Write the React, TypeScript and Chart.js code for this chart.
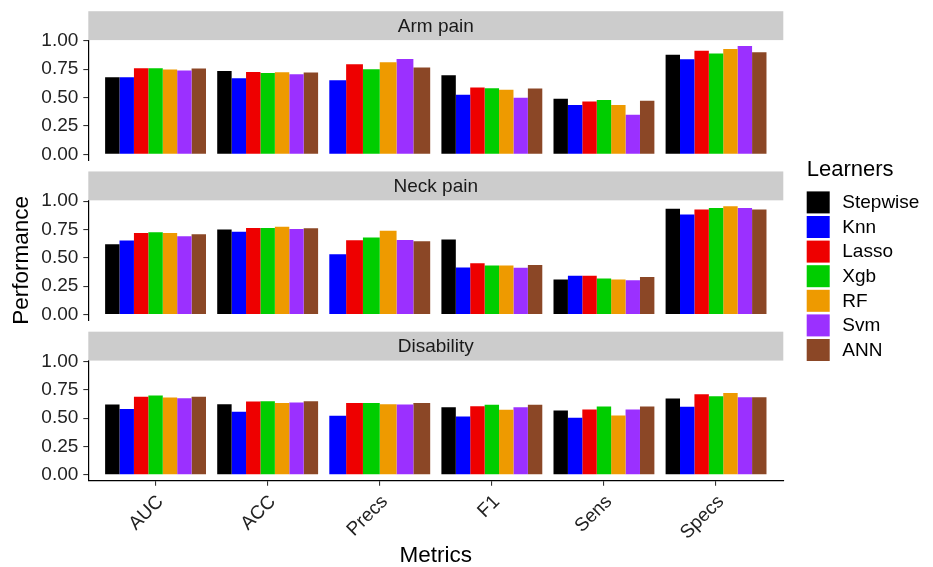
import React, { useEffect, useRef } from 'react';
import { Chart, registerables } from 'chart.js';

Chart.register(...registerables);

const FONT = "'Liberation Sans', Arial, Helvetica, sans-serif";

const METRICS = ['AUC', 'ACC', 'Precs', 'F1', 'Sens', 'Specs'];
const LEARNERS = ['Stepwise', 'Knn', 'Lasso', 'Xgb', 'RF', 'Svm', 'ANN'];
const LEARNER_COLORS = ['#000000', '#0000FF', '#EE0000', '#00CD00', '#EE9A00', '#9B30FF', '#8B4726'];
const PANELS = ['Arm pain', 'Neck pain', 'Disability'];
const Y_TICKS = [0, 0.25, 0.5, 0.75, 1];

// rows follow LEARNERS, columns follow METRICS
const ARM_PAIN = [
  [0.68, 0.735, null, 0.697, 0.49, 0.879],
  [0.68, 0.671, 0.654, 0.525, 0.434, 0.838],
  [0.759, 0.726, 0.794, 0.589, 0.466, 0.914],
  [0.76, 0.718, 0.75, 0.583, 0.48, 0.89],
  [0.747, 0.724, 0.811, 0.569, 0.434, 0.928],
  [0.738, 0.706, 0.84, 0.498, 0.35, 0.955],
  [0.756, 0.721, 0.765, 0.58, 0.472, 0.899],
];
const NECK_PAIN = [
  [0.62, 0.749, null, 0.661, 0.31, 0.933],
  [0.652, 0.731, 0.532, 0.416, 0.342, 0.883],
  [0.72, 0.763, 0.655, 0.453, 0.342, 0.927],
  [0.725, 0.763, 0.679, 0.433, 0.319, 0.939],
  [0.72, 0.775, 0.74, 0.433, 0.31, 0.956],
  [0.69, 0.754, 0.658, 0.412, 0.302, 0.939],
  [0.708, 0.76, 0.646, 0.436, 0.331, 0.927],
];
const DISABILITY = [
  [0.62, 0.623, null, 0.596, 0.567, 0.672],
  [0.579, 0.556, 0.52, 0.515, 0.503, 0.599],
  [0.687, 0.646, 0.634, 0.605, 0.576, 0.71],
  [0.699, 0.649, 0.632, 0.617, 0.602, 0.693],
  [0.681, 0.632, 0.623, 0.573, 0.523, 0.722],
  [0.675, 0.637, 0.62, 0.596, 0.576, 0.684],
  [0.687, 0.649, 0.632, 0.617, 0.602, 0.684],
];
const PANEL_VALUES = [ARM_PAIN, NECK_PAIN, DISABILITY];

const stripPlugin = {
  id: 'facetStrips',
  afterDraw(chart: any) {
    const ctx = chart.ctx;
    const area = chart.chartArea;
    ctx.save();
    PANELS.forEach((name, p) => {
      const s = chart.scales['s' + p];
      const top = s.top + s.height * 0.28;
      ctx.fillStyle = '#CCCCCC';
      ctx.fillRect(area.left, top, area.right - area.left, s.bottom - top);
      ctx.fillStyle = '#1A1A1A';
      ctx.font = `19px ${FONT}`;
      ctx.textAlign = 'center';
      ctx.textBaseline = 'middle';
      ctx.fillText(name, (area.left + area.right) / 2, (top + s.bottom) / 2 + 1);
    });
    // legend
    const mid = chart.scales.p1;
    const cy = (mid.top + mid.bottom) / 2;
    const x0 = area.right + 23.4;
    ctx.fillStyle = '#000';
    ctx.textAlign = 'left';
    ctx.textBaseline = 'alphabetic';
    ctx.font = `22px ${FONT}`;
    ctx.fillText('Learners', x0, cy - 84);
    ctx.font = `19px ${FONT}`;
    ctx.textBaseline = 'middle';
    LEARNERS.forEach((l, i) => {
      const top = cy - 69 + i * 24.6;
      ctx.fillStyle = LEARNER_COLORS[i];
      ctx.fillRect(x0, top, 23, 22);
      ctx.fillStyle = '#000';
      ctx.fillText(l, x0 + 35.6, top + 11.5);
    });
    ctx.restore();
  },
};

export default function App() {
  const ref = useRef<HTMLCanvasElement>(null);
  useEffect(() => {
    const canvas = ref.current;
    if (!canvas) return;
    Chart.defaults.font.family = FONT;

    const datasets: any[] = [];
    PANEL_VALUES.forEach((rows, p) =>
      rows.forEach((vals, l) =>
        datasets.push({
          label: LEARNERS[l],
          stack: LEARNERS[l],
          yAxisID: 'p' + p,
          backgroundColor: LEARNER_COLORS[l],
          borderWidth: 0,
          categoryPercentage: 0.9,
          barPercentage: 1,
          skipNull: true,
          data: vals.map((v, i) => ({ x: i + 1, y: v })),
        })
      )
    );

    const scales: any = {
      x: {
        type: 'linear',
        position: 'bottom',
        min: 0.4,
        max: 6.6,
        offset: false,
        afterBuildTicks: (s: any) => {
          s.ticks = METRICS.map((_, i) => ({ value: i + 1 }));
        },
        afterFit: (s: any) => {
          s.height = 86.3;
          s.paddingLeft = 0;
          s.paddingRight = 0;
        },
        ticks: {
          autoSkip: false,
          maxRotation: 45,
          minRotation: 45,
          includeBounds: false,
          callback: (v: any) => METRICS[Math.round(Number(v)) - 1] ?? '',
          font: { size: 19 },
          color: '#222',
          padding: 5,
          labelOffset: 5,
        },
        grid: { display: true, drawOnChartArea: false, drawTicks: true, tickLength: 5, color: '#333', lineWidth: 1.1, offset: false },
        border: { display: true, color: '#000', width: 1.2 },
        title: { display: true, text: 'Metrics', font: { size: 22.5, lineHeight: 1 }, color: '#000', padding: 0 },
      },
    };

    PANELS.forEach((_, p) => {
      scales['s' + p] = {
        type: 'linear',
        position: 'left',
        stack: 'facets',
        stackWeight: 40.1,
        weight: 6 - 2 * p,
        min: 0,
        max: 1,
        display: true,
        ticks: { display: false },
        grid: { display: false },
        border: { display: false },
        afterFit: (s: any) => {
          s.width = 88.3;
          s.paddingTop = 0;
          s.paddingBottom = 0;
        },
      };
      scales['p' + p] = {
        type: 'linear',
        position: 'left',
        stack: 'facets',
        stackWeight: 120.1,
        weight: 5 - 2 * p,
        min: -0.052,
        max: 1.007,
        stacked: false,
        afterBuildTicks: (s: any) => {
          s.ticks = Y_TICKS.map((v) => ({ value: v }));
        },
        afterFit: (s: any) => {
          s.width = 88.3;
          s.paddingTop = 0;
          s.paddingBottom = 0;
        },
        ticks: {
          autoSkip: false,
          callback: (v: any) => Number(v).toFixed(2),
          font: { size: 19 },
          color: '#222',
          padding: 5,
        },
        grid: { display: true, drawOnChartArea: false, drawTicks: true, tickLength: 5, color: '#333', lineWidth: 1.1 },
        border: { display: true, color: '#000', width: 1.2 },
        title:
          p === 1
            ? { display: true, text: 'Performance', font: { size: 22.5, lineHeight: 1 }, color: '#000', padding: { top: 11, bottom: 0 } }
            : { display: false },
      };
    });

    const chart = new Chart(canvas, {
      type: 'bar',
      data: { datasets },
      options: {
        responsive: false,
        animation: false,
        devicePixelRatio: 1,
        layout: { padding: { left: 0, top: 0, right: 149.7, bottom: 0 } },
        plugins: { legend: { display: false }, tooltip: { enabled: false } },
        scales,
      },
      plugins: [stripPlugin],
    } as any);
    return () => chart.destroy();
  }, []);

  return (
    <div style={{ position: 'absolute', left: 0, top: 0, width: 933, height: 567, background: '#fff' }}>
      <canvas ref={ref} width={933} height={567} style={{ display: 'block' }} />
    </div>
  );
}
